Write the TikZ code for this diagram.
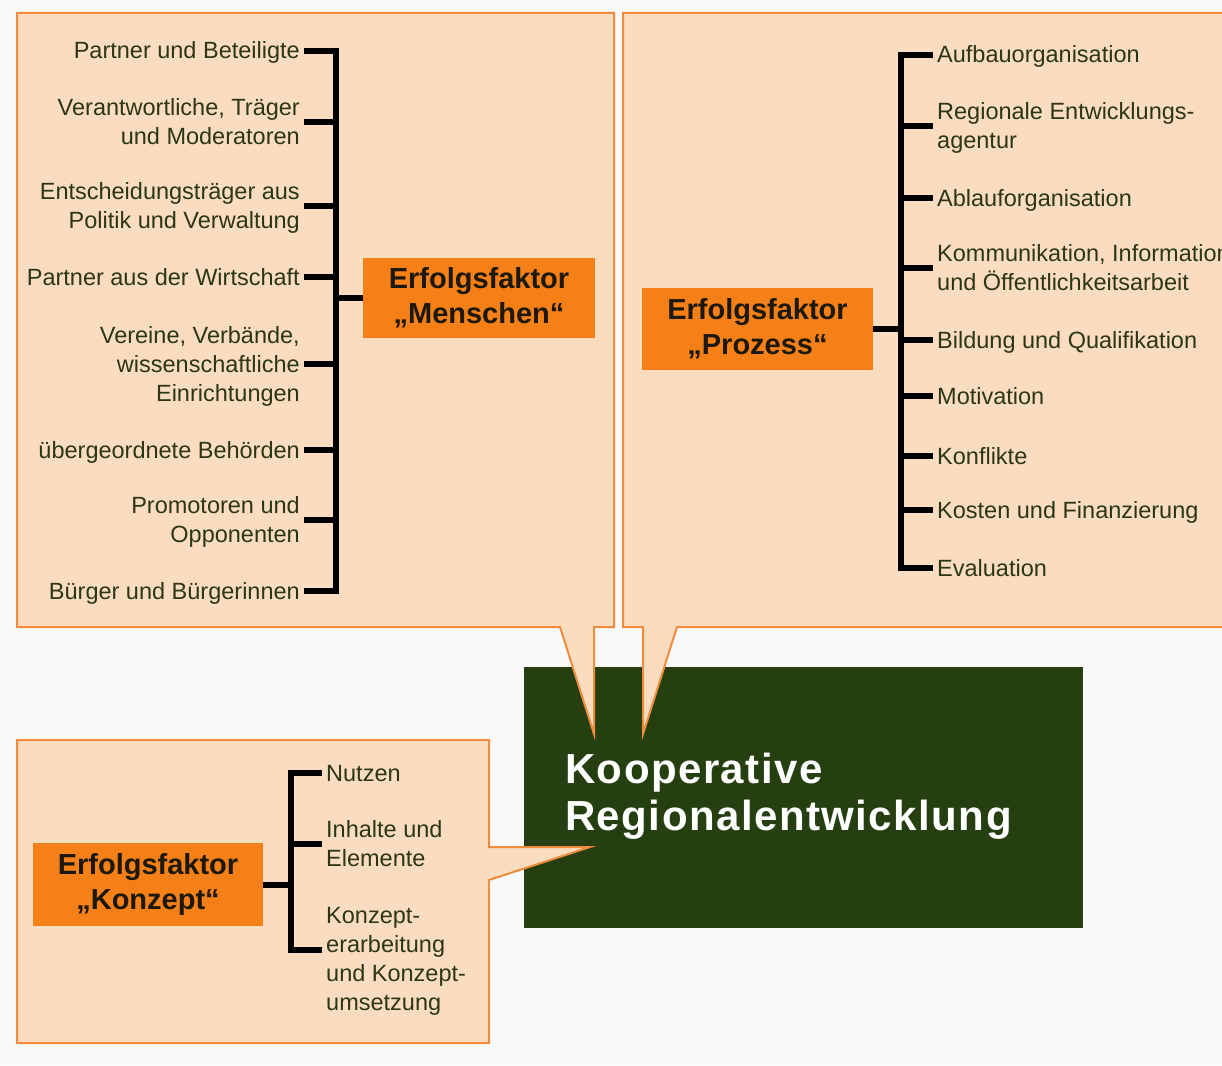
\documentclass[tikz,border=0pt]{standalone}
\usepackage{fontspec}
\setmainfont{Liberation Sans}
\newfontfamily\krfont[LetterSpace=3.5]{Liberation Sans}

\definecolor{pagebg}{RGB}{249,249,249}
\definecolor{peach}{RGB}{250,221,192}
\definecolor{rim}{RGB}{240,140,62}
\definecolor{tag}{RGB}{246,128,24}
\definecolor{forest}{RGB}{38,63,17}
\definecolor{ink}{RGB}{44,54,20}
\definecolor{tagink}{RGB}{28,24,10}

% line struts: item text (22pt above, 6pt below the baseline) and title text
\newcommand\ls{\rule[-6pt]{0pt}{28pt}}
\newcommand\ts{\rule[-10pt]{0pt}{42pt}}

\begin{document}
\begin{tikzpicture}[x=1pt,y=-1pt,
  panel/.style={fill=peach,draw=rim,line width=2pt,line join=miter},
  tagbox/.style={fill=tag,text=tagink,inner sep=0pt,align=center,
    font=\fontsize{29}{35}\selectfont\bfseries},
  itemL/.style={anchor=east,inner sep=0pt,text=ink,align=right,
    font=\fontsize{23.5}{29}\selectfont},
  itemR/.style={anchor=west,inner sep=0pt,text=ink,align=left,
    font=\fontsize{23.5}{29}\selectfont},
  tree/.style={line width=6pt,draw=black,line join=miter}]

\useasboundingbox[fill=pagebg] (0,0) rectangle (1222,1065);

% central box
\node[fill=forest,inner sep=0pt,minimum width=559pt,minimum height=261pt,
      anchor=north west] (kr) at (524,667) {};
\node[anchor=north west,inner sep=0pt,text=white,align=left,
      font=\krfont\fontsize{42}{47}\selectfont\bfseries]
      (krt) at ([xshift=41pt,yshift=-84pt]kr.north west)
      {\ts Kooperative\\\ts Regionalentwicklung};

% speech-bubble panels
\draw[panel] (17,13) -- (614,13) -- (614,627) -- (594,627) -- (594,734)
  -- (560,627) -- (17,627) -- cycle;
\draw[panel] (623,13) -- (1240,13) -- (1240,627) -- (677,627) -- (643,734)
  -- (643,627) -- (623,627) -- cycle;
\draw[panel] (17,740) -- (489,740) -- (489,847) -- (590,847) -- (489,880)
  -- (489,1043) -- (17,1043) -- cycle;

% ---------- Erfolgsfaktor Menschen ----------
\node[tagbox,minimum width=232pt,minimum height=80pt] (men) at (479,298)
  {Erfolgsfaktor\\„Menschen“};
\coordinate (msp) at (336,0);
\node[itemL] (m1) at (300,51)  {\ls Partner und Beteiligte};
\node[itemL] (m2) at (300,122) {\ls Verantwortliche, Träger\\\ls und Moderatoren};
\node[itemL] (m3) at (300,206) {\ls Entscheidungsträger aus\\\ls Politik und Verwaltung};
\node[itemL] (m4) at (300,277) {\ls Partner aus der Wirtschaft};
\node[itemL] (m5) at (300,364) {\ls Vereine, Verbände,\\\ls wissenschaftliche\\\ls Einrichtungen};
\node[itemL] (m6) at (300,450) {\ls übergeordnete Behörden};
\node[itemL] (m7) at (300,520) {\ls Promotoren und\\\ls Opponenten};
\node[itemL] (m8) at (300,591) {\ls Bürger und Bürgerinnen};
\draw[tree] ([xshift=4pt]m1.east) -| (m8.east -| msp) -- ([xshift=4pt]m8.east);
\foreach \i in {2,...,7}
  \draw[tree] ([xshift=4pt]m\i.east) -- (m\i.east -| msp);
\draw[tree] (men.west) -- (men.west -| msp);

% ---------- Erfolgsfaktor Prozess ----------
\node[tagbox,minimum width=231pt,minimum height=82pt] (pro) at (757.5,329)
  {Erfolgsfaktor\\„Prozess“};
\coordinate (psp) at (901,0);
\node[itemR] (p1) at (937,55)  {\ls Aufbauorganisation};
\node[itemR] (p2) at (937,126) {\ls Regionale Entwicklungs-\\\ls agentur};
\node[itemR] (p3) at (937,198) {\ls Ablauforganisation};
\node[itemR] (p4) at (937,268) {\ls Kommunikation, Information\\\ls und Öffentlichkeitsarbeit};
\node[itemR] (p5) at (937,340) {\ls Bildung und Qualifikation};
\node[itemR] (p6) at (937,396) {\ls Motivation};
\node[itemR] (p7) at (937,456) {\ls Konflikte};
\node[itemR] (p8) at (937,510) {\ls Kosten und Finanzierung};
\node[itemR] (p9) at (937,568) {\ls Evaluation};
\draw[tree] ([xshift=-4pt]p1.west) -| (p9.west -| psp) -- ([xshift=-4pt]p9.west);
\foreach \i in {2,...,8}
  \draw[tree] ([xshift=-4pt]p\i.west) -- (p\i.west -| psp);
\draw[tree] (pro.east) -- (pro.east -| psp);

% ---------- Erfolgsfaktor Konzept ----------
\node[tagbox,minimum width=230pt,minimum height=83pt] (kon) at (148,884.5)
  {Erfolgsfaktor\\„Konzept“};
\coordinate (ksp) at (291,0);
\node[itemR] (k1) at (326,773) {\ls Nutzen};
\node[itemR] (k2) at (326,844) {\ls Inhalte und\\\ls Elemente};
\node[itemR,anchor=north west] (k3) at (326,901)
  {\ls Konzept-\\\ls erarbeitung\\\ls und Konzept-\\\ls umsetzung};
\coordinate (k3t) at (322,950);
\draw[tree] ([xshift=-4pt]k1.west) -| (k3t -| ksp) -- (k3t);
\draw[tree] ([xshift=-4pt]k2.west) -- (k2.west -| ksp);
\draw[tree] (kon.east) -- (kon.east -| ksp);

\end{tikzpicture}
\end{document}
